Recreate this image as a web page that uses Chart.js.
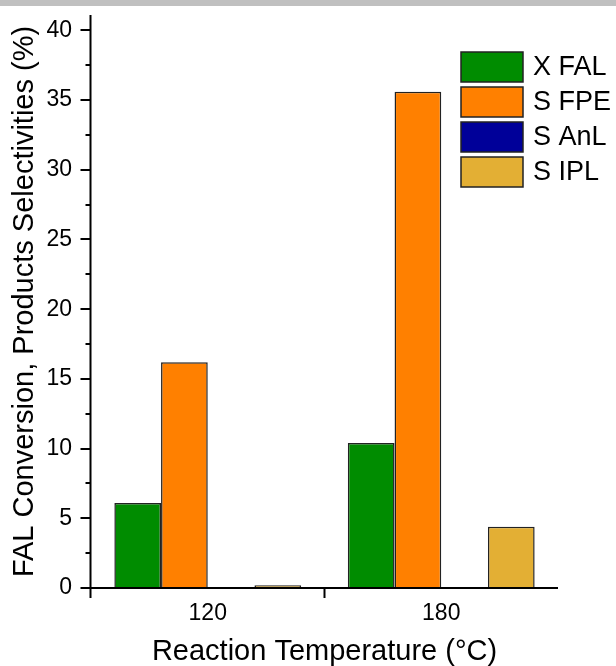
<!DOCTYPE html>
<html>
<head>
<meta charset="utf-8">
<script src="https://cdn.jsdelivr.net/npm/chart.js@4/dist/chart.umd.min.js"></script>
<style>
  html, body { margin: 0; padding: 0; background: #fff; }
  #wrap { position: relative; width: 616px; height: 666px; }
</style>
</head>
<body>
<div id="wrap"><canvas id="c"></canvas></div>
<script>
// Reaction temperatures (°C)
const temperatures = ['120', '180'];

// FAL conversion and product selectivities (%)
const xFAL = [6.1, 10.4];
const sFPE = [16.2, 35.6];
const sAnL = [0, 0];
const sIPL = [0.2, 4.4];

const seriesNames = ['X FAL', 'S FPE', 'S AnL', 'S IPL'];
const seriesColors = ['#008C00', '#FF8000', '#000099', '#E3AF34'];

// Labelled y ticks
const yTickValues = [0, 5, 10, 15, 20, 25, 30, 35, 40];

const FONT = "'Liberation Sans', Arial, Helvetica, sans-serif";
Chart.defaults.font.family = FONT;
Chart.defaults.color = '#000';

// Axis lines, outward major/minor ticks, the top band and the boxed legend
const frame = {
  id: 'frame',
  beforeDraw(chart) {
    const ctx = chart.ctx;
    ctx.save();
    ctx.fillStyle = '#c0c0c0';
    ctx.fillRect(0, 0, chart.width, 6);
    ctx.restore();
  },
  afterDatasetsDraw(chart) {
    const { ctx, chartArea: a, scales: { x, y } } = chart;
    ctx.save();
    ctx.strokeStyle = '#000';
    ctx.lineWidth = 2;
    const ax = a.left - 0.5;
    // y axis, running below the x axis
    ctx.beginPath();
    ctx.moveTo(ax, a.top);
    ctx.lineTo(ax, a.bottom + 10);
    ctx.stroke();
    // y ticks: majors every 5, minors half way between
    for (let v = 0; v <= y.max + 1e-9; v += 2.5) {
      const py = Math.round(y.getPixelForValue(v));
      const major = Math.abs(v % 5) < 1e-9;
      ctx.beginPath();
      ctx.moveTo(ax - (major ? 10 : 5), py);
      ctx.lineTo(ax, py);
      ctx.stroke();
    }
    // x axis
    ctx.beginPath();
    ctx.moveTo(ax - 1, a.bottom);
    ctx.lineTo(a.right, a.bottom);
    ctx.stroke();
    // tick between the two temperature groups
    for (let i = 0; i < temperatures.length - 1; i++) {
      const px = (x.getPixelForValue(i) + x.getPixelForValue(i + 1)) / 2;
      ctx.beginPath();
      ctx.moveTo(px, a.bottom);
      ctx.lineTo(px, a.bottom + 10);
      ctx.stroke();
    }
    ctx.restore();
  },
  afterDraw(chart) {
    const ctx = chart.ctx;
    ctx.save();
    const bx = 461, by = 52, bw = 62, bh = 30, step = 35;
    chart.data.datasets.forEach((ds, i) => {
      const top = by + i * step;
      ctx.fillStyle = ds.backgroundColor;
      ctx.fillRect(bx, top, bw, bh);
      ctx.strokeStyle = '#222';
      ctx.lineWidth = 1.5;
      ctx.strokeRect(bx, top, bw, bh);
      ctx.fillStyle = '#000';
      ctx.font = '27px ' + FONT;
      ctx.textBaseline = 'middle';
      ctx.textAlign = 'left';
      ctx.fillText(ds.label, 533, top + bh / 2 + 1);
    });
    ctx.restore();
  }
};

const seriesValues = [xFAL, sFPE, sAnL, sIPL];

new Chart(document.getElementById('c'), {
  type: 'bar',
  data: {
    labels: temperatures,
    datasets: seriesValues.map((vals, i) => ({
      label: seriesNames[i],
      data: vals,
      backgroundColor: seriesColors[i],
      borderColor: '#222',
      borderWidth: 1.5,
      borderSkipped: 'bottom',
      categoryPercentage: 0.8,
      barPercentage: 1.0
    }))
  },
  options: {
    responsive: true,
    maintainAspectRatio: false,
    animation: false,
    layout: { padding: { top: 15, right: 58, left: 0, bottom: 0 } },
    plugins: {
      legend: { display: false },
      tooltip: { enabled: false }
    },
    scales: {
      x: {
        type: 'category',
        offset: true,
        grid: { display: false, drawTicks: false, offset: true },
        border: { display: false },
        ticks: {
          font: { size: 23 },
          color: '#000',
          padding: 12,
          maxRotation: 0
        },
        title: {
          display: true,
          text: 'Reaction Temperature (°C)',
          font: { size: 29, lineHeight: 1 },
          color: '#000',
          padding: { top: 0, bottom: 0 }
        },
        afterFit(scale) {
          scale.height = 78;
          scale.paddingLeft = 0;
          scale.paddingRight = 0;
        }
      },
      y: {
        min: 0,
        max: 41.1,
        grid: { display: false, drawTicks: false },
        border: { display: false },
        ticks: {
          stepSize: 5,
          includeBounds: false,
          font: { size: 23 },
          color: '#000',
          padding: 19
        },
        afterBuildTicks(scale) {
          scale.ticks = yTickValues.map(v => ({ value: v }));
        },
        title: {
          display: true,
          text: 'FAL Conversion, Products Selectivities (%)',
          font: { size: 29, lineHeight: 1 },
          color: '#000',
          padding: { top: 10, bottom: 0 }
        },
        afterFit(scale) {
          scale.width = 91;
          scale.paddingTop = 0;
          scale.paddingBottom = 0;
        }
      }
    }
  },
  plugins: [frame]
});
</script>
</body>
</html>
